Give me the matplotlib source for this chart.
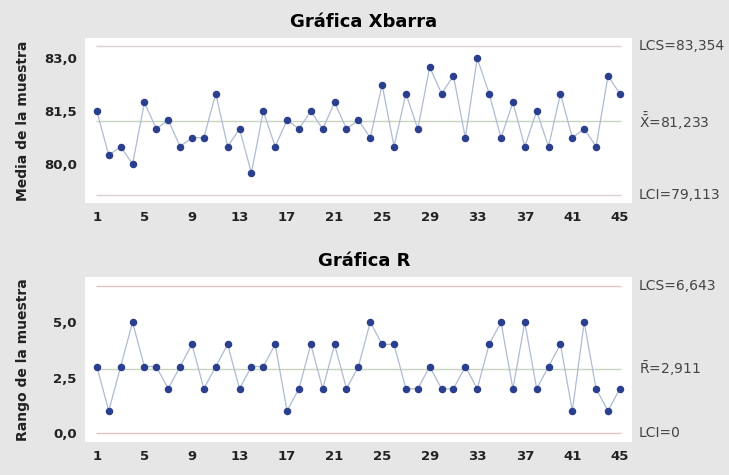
import matplotlib.pyplot as plt
import numpy as np

muestras = np.arange(1, 46)

medias = [81.5, 80.25, 80.5, 80.0, 81.75, 81.0, 81.25, 80.5, 80.75, 80.75,
          82.0, 80.5, 81.0, 79.75, 81.5, 80.5, 81.25, 81.0, 81.5, 81.0,
          81.75, 81.0, 81.25, 80.75, 82.25, 80.5, 82.0, 81.0, 82.75, 82.0,
          82.5, 80.75, 83.0, 82.0, 80.75, 81.75, 80.5, 81.5, 80.5, 82.0,
          80.75, 81.0, 80.5, 82.5, 82.0]

rangos = [3, 1, 3, 5, 3, 3, 2, 3, 4, 2, 3, 4, 2, 3, 3, 4, 1, 2, 4, 2,
          4, 2, 3, 5, 4, 4, 2, 2, 3, 2, 2, 3, 2, 4, 5, 2, 5, 2, 3, 4,
          1, 5, 2, 1, 2]

# limites de control
x_lcs, x_centro, x_lci = 83.354, 81.233, 79.113
r_lcs, r_centro, r_lci = 6.643, 2.911, 0.0

xticks = list(range(1, 46, 4))

fondo = "#e6e6e6"
fig = plt.figure(figsize=(7.29, 4.75), dpi=100, facecolor=fondo)
ax1 = fig.add_axes([0.1166, 0.5726, 0.750, 0.347])
ax2 = fig.add_axes([0.1166, 0.0695, 0.750, 0.347])


def carta(ax, y, lcs, centro, lci, color_lim, ylim, yticks, yticklabels,
          titulo, ylabel, etiquetas):
    ax.set_facecolor("white")
    for s in ax.spines.values():
        s.set_visible(False)
    ax.hlines([lcs, lci], 0.9, 45.1, color=color_lim, lw=1.0)
    ax.hlines(centro, 0.9, 45.1, color="#c8d4c0", lw=1.0)
    ax.plot(muestras, y, color="#aebbd2", lw=0.9, zorder=2)
    ax.plot(muestras, y, "o", color="#2b3f8f", ms=4.4, zorder=3)
    ax.set_xlim(0, 46)
    ax.set_ylim(*ylim)
    ax.set_xticks(xticks)
    ax.set_yticks(yticks)
    ax.set_yticklabels(yticklabels)
    ax.tick_params(length=0, labelsize=9.5, pad=6)
    for t in ax.get_xticklabels() + ax.get_yticklabels():
        t.set_fontweight("bold")
        t.set_color("#222222")
    ax.set_title(titulo, fontsize=13, fontweight="bold", pad=8, x=0.51)
    ax.set_ylabel(ylabel, fontsize=10, fontweight="bold", color="#222222")
    ax.yaxis.set_label_coords(-0.1, 0.5)
    for val, txt in zip([lcs, centro, lci], etiquetas):
        ax.text(46.6, val, txt, fontsize=10, color="#444444",
                va="center", ha="left", clip_on=False)


carta(ax1, medias, x_lcs, x_centro, x_lci, "#d9d0d0", (78.9, 83.57),
      [80.0, 81.5, 83.0], ["80,0", "81,5", "83,0"],
      "Gráfica Xbarra", "Media de la muestra",
      ["LCS=83,354", r"$\bar{\bar{\mathrm{X}}}$=81,233", "LCI=79,113"])

carta(ax2, rangos, r_lcs, r_centro, r_lci, "#e2c4c4", (-0.4, 7.03),
      [0.0, 2.5, 5.0], ["0,0", "2,5", "5,0"],
      "Gráfica R", "Rango de la muestra",
      ["LCS=6,643", r"$\bar{\mathrm{R}}$=2,911", "LCI=0"])

fig.savefig("out.png", dpi=100, facecolor=fondo)
